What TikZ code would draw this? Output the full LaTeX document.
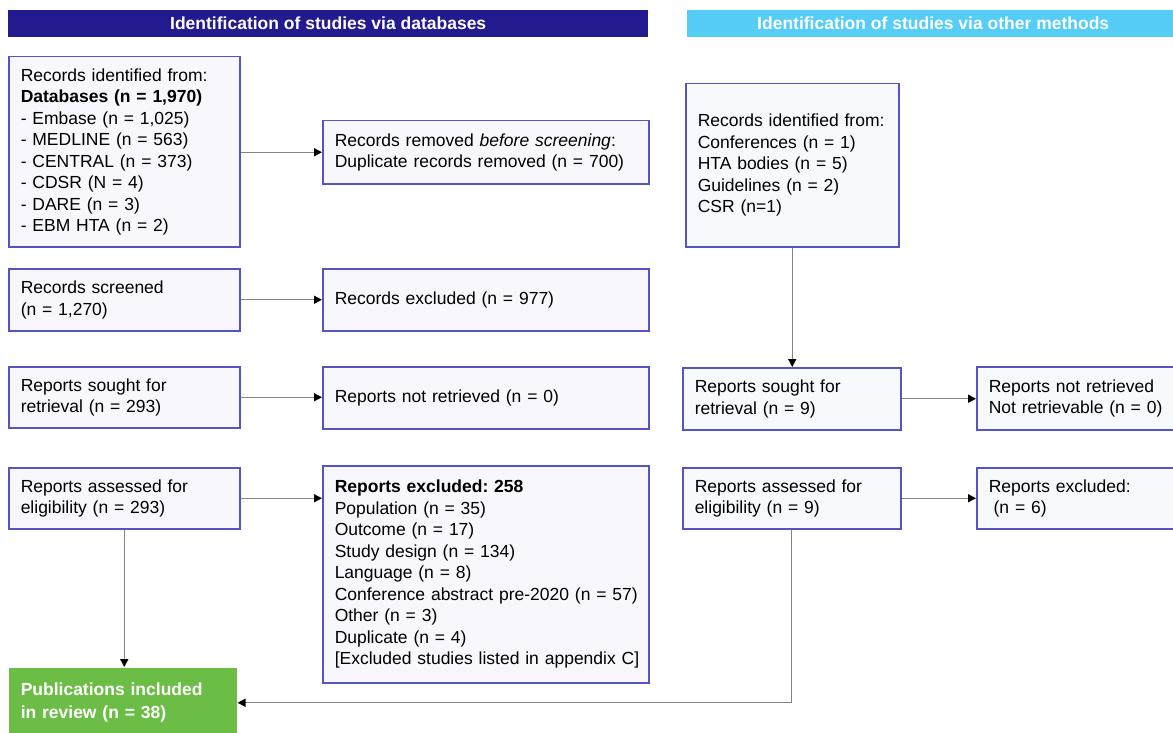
\documentclass[tikz,border=0pt]{standalone}
\usepackage{fontspec}
\setmainfont{Liberation Sans}
\usetikzlibrary{arrows.meta}
\definecolor{navy}{HTML}{221A8E}
\definecolor{sky}{HTML}{55CDF6}
\definecolor{edge}{HTML}{5454C4}
\definecolor{paleL}{HTML}{F8F7FD}
\definecolor{paleR}{HTML}{F6FAFD}
\definecolor{leaf}{HTML}{6BBD45}
\definecolor{wire}{HTML}{858585}
\frenchspacing
\begin{document}
\begin{tikzpicture}[x=1pt,y=-1pt,
  every node/.style={font=\fontsize{17.5}{21.5}\selectfont},
  bx/.style={draw=edge, line width=1.5pt, anchor=north west, inner xsep=12pt, inner ysep=0pt, align=left},
  lbox/.style={bx, fill=paleL},
  rbox/.style={bx, fill=paleR},
  banner/.style={anchor=north west, inner sep=0pt, text=white, align=center,
    minimum height=27pt, font=\fontsize{17.5}{21.5}\selectfont\bfseries},
  flow/.style={draw=wire, line width=1.3pt, -{Triangle[length=8pt,width=8pt,color=black]}},
]
\fill[white] (0,0) rectangle (1173,733);
\path[use as bounding box, clip] (0,0) rectangle (1173,733);

% column headers
\node[banner, fill=navy, minimum width=640pt] (hdb) at (8,10) {Identification of studies via databases};
\node[banner, fill=sky, minimum width=492pt] (hot) at (687,10) {Identification of studies via other methods};

% databases column
\node[lbox, minimum width=231pt, text width=207pt, minimum height=190pt] (recid) at (8,56)
  {Records identified from:\\ \textbf{Databases (n = 1,970)}\\ - Embase (n = 1,025)\\ - MEDLINE (n = 563)\\
   - CENTRAL (n = 373)\\ - CDSR (N = 4)\\ - DARE (n = 3)\\ - EBM HTA (n = 2)};
\node[lbox, minimum width=326pt, text width=302pt, minimum height=63pt] (dup) at (322,120)
  {Records removed \emph{before screening}:\\ Duplicate records removed (n = 700)};
\node[lbox, minimum width=231pt, text width=207pt, minimum height=62pt] (scr) at (8,268)
  {Records screened\\ (n = 1,270)};
\node[lbox, minimum width=326pt, text width=302pt, minimum height=62pt] (rexc) at (322,268)
  {Records excluded (n = 977)};
\node[lbox, minimum width=231pt, text width=207pt, minimum height=61pt] (sought) at (8,366)
  {Reports sought for\\ retrieval (n = 293)};
\node[lbox, minimum width=326pt, text width=302pt, minimum height=62pt] (notret) at (322,366)
  {Reports not retrieved (n = 0)};
\node[lbox, minimum width=231pt, text width=207pt, minimum height=61pt] (elig) at (8,467)
  {Reports assessed for\\ eligibility (n = 293)};
\node[lbox, minimum width=326pt, text width=302pt, minimum height=217pt] (excl) at (322,465)
  {\textbf{Reports excluded: 258}\\ Population (n = 35)\\ Outcome (n = 17)\\ Study design (n = 134)\\
   Language (n = 8)\\ \mbox{Conference abstract pre-2020 (n = 57)}\\ Other (n = 3)\\ Duplicate (n = 4)\\
   \mbox{[Excluded studies listed in appendix C]}\par\vspace{19pt}};
\node[bx, draw=none, fill=leaf, text=white, font=\fontsize{17.5}{23}\selectfont\bfseries,
  minimum width=228pt, text width=204pt, minimum height=70pt] (incl) at (8,667)
  {Publications included\\ in review (n = 38)};

% other methods column
\node[rbox, minimum width=213pt, text width=189pt, minimum height=163pt] (othid) at (685,83)
  {Records identified from:\\ Conferences (n = 1)\\ HTA bodies (n = 5)\\ Guidelines (n = 2)\\ CSR (n=1)};
\node[rbox, minimum width=218pt, text width=194pt, minimum height=62pt] (othsought) at (682,367)
  {Reports sought for\\ retrieval (n = 9)};
\node[rbox, minimum width=215pt, text width=191pt, minimum height=63pt] (othnotret) at (976,366)
  {Reports not retrieved\\ Not retrievable (n = 0)};
\node[rbox, minimum width=218pt, text width=194pt, minimum height=61pt] (othelig) at (682,467)
  {Reports assessed for\\ eligibility (n = 9)};
\node[rbox, minimum width=215pt, text width=191pt, minimum height=61pt] (othexcl) at (976,467)
  {Reports excluded:\\ \hspace{0.28em}(n = 6)};

% connectors
\draw[flow] (recid.east |- dup.west) -- (dup.west);
\draw[flow] (scr.east) -- (scr.east -| rexc.west);
\draw[flow] (sought.east) -- (sought.east -| notret.west);
\draw[flow] (elig.east) -- (elig.east -| excl.west);
\draw[flow] (elig.south) -- (elig.south |- incl.north);
\draw[flow] (othid.south) -- (othid.south |- othsought.north);
\draw[flow] (othsought.east) -- (othsought.east -| othnotret.west);
\draw[flow] (othelig.east) -- (othelig.east -| othexcl.west);
\draw[flow] (othelig.south) |- (incl.east);
\end{tikzpicture}
\end{document}
